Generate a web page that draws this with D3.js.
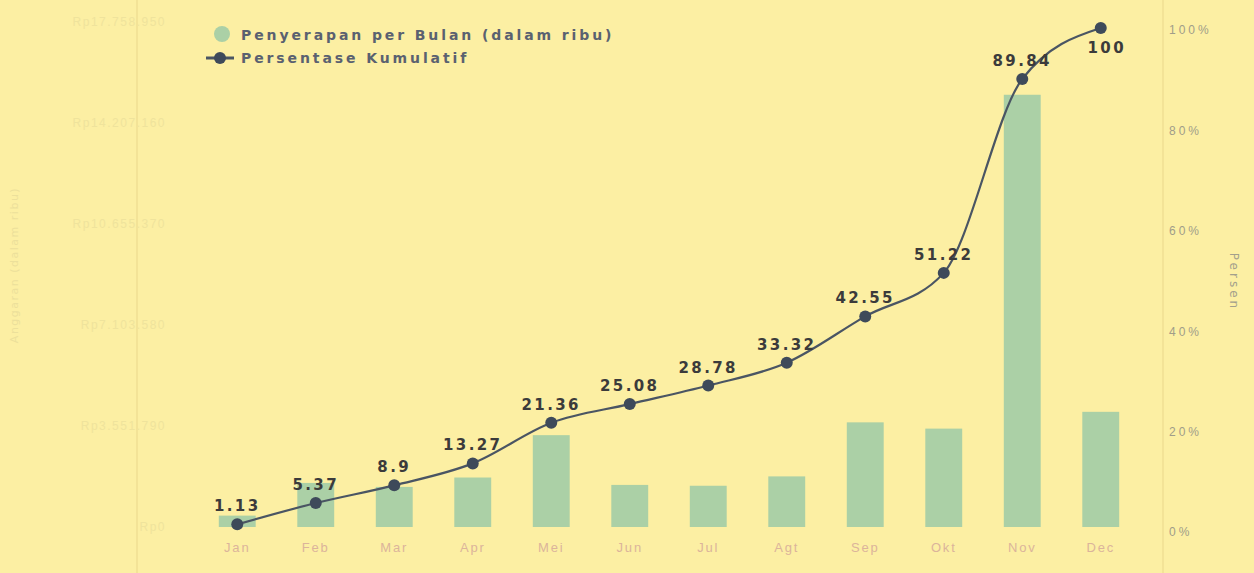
<!DOCTYPE html>
<html><head><meta charset="utf-8">
<script src="https://cdn.jsdelivr.net/npm/d3@7"></script>
<style>
html,body{margin:0;padding:0;background:#fcefa3;}
svg{display:block;font-family:"DejaVu Sans",sans-serif;}
</style></head>
<body>
<svg id="chart" width="1254" height="573"></svg>
<script>
const months = ["Jan","Feb","Mar","Apr","Mei","Jun","Jul","Agt","Sep","Okt","Nov","Dec"];
const monthly = [400000,1550000,1410000,1740000,3230000,1480000,1450000,1780000,3680000,3460000,15200000,4050000];
const cumulativePct = [1.13,5.37,8.9,13.27,21.36,25.08,28.78,33.32,42.55,51.22,89.84,100];
const leftTicks = [0,3551790,7103580,10655370,14207160,17758950];
const leftTickLabels = ["Rp0","Rp3.551.790","Rp7.103.580","Rp10.655.370","Rp14.207.160","Rp17.758.950"];
const rightTicks = [0,20,40,60,80,100];
const legendLabels = ["Penyerapan per Bulan (dalam ribu)","Persentase Kumulatif"];

const svg = d3.select("#chart");
const W = 1254, H = 573;
svg.append("rect").attr("width",W).attr("height",H).attr("fill","#fcefa3");

const x = d3.scaleBand().domain(months).range([198,1140]).paddingInner(0.53).paddingOuter(0.265);
const yL = d3.scaleLinear().domain([0,17758950]).range([527,22]);
const yR = d3.scaleLinear().domain([0,100]).range([530,28]);

// faint vertical lines
[137,1163].forEach(v=>svg.append("line").attr("x1",v).attr("x2",v).attr("y1",0).attr("y2",H)
  .attr("stroke","#f3e397").attr("stroke-width",2));

// left axis
const gL = svg.append("g").attr("transform","translate(170,0)")
  .call(d3.axisLeft(yL).tickValues(leftTicks).tickFormat((d,i)=>leftTickLabels[i]).tickSize(0).tickPadding(4));
gL.select(".domain").remove();
gL.selectAll("text").attr("fill","#efe39c").attr("font-size",12).attr("letter-spacing","1.5px");

svg.append("text").attr("transform","translate(18,265) rotate(-90)").attr("text-anchor","middle")
  .attr("fill","#ece09b").attr("font-size",11).attr("letter-spacing","1.5px").text("Anggaran (dalam ribu)");

// right axis
const gR = svg.append("g").attr("transform","translate(1167,2)")
  .call(d3.axisRight(yR).tickValues(rightTicks).tickFormat(d=>d+"%").tickSize(0).tickPadding(2));
gR.select(".domain").remove();
gR.selectAll("text").attr("fill","#a09d89").attr("font-size",12).attr("letter-spacing","3px");

svg.append("text").attr("transform","translate(1230,282) rotate(90)").attr("text-anchor","middle")
  .attr("fill","#a3a08c").attr("font-size",12).attr("letter-spacing","3px").text("Persen");

// x axis
const gX = svg.append("g").attr("transform","translate(0,535)")
  .call(d3.axisBottom(x).tickSize(0).tickPadding(8));
gX.select(".domain").remove();
gX.selectAll("text").attr("fill","#dbb49b").attr("font-size",13).attr("letter-spacing","1.8px");

// bars
svg.append("g").selectAll("rect").data(monthly).join("rect")
  .attr("x",(d,i)=>x(months[i])).attr("width",x.bandwidth())
  .attr("y",d=>yL(d)).attr("height",d=>yL(0)-yL(d))
  .attr("fill","#abd0a6");

// line
const cx = m => x(m)+x.bandwidth()/2;
const line = d3.line().x((d,i)=>cx(months[i])).y(d=>yR(d)).curve(d3.curveMonotoneX);
svg.append("path").datum(cumulativePct).attr("d",line).attr("fill","none")
  .attr("stroke","#4a5563").attr("stroke-width",2.2);
svg.append("g").selectAll("circle").data(cumulativePct).join("circle")
  .attr("cx",(d,i)=>cx(months[i])).attr("cy",d=>yR(d)).attr("r",6).attr("fill","#3e4a5a");

// point labels
svg.append("g").selectAll("text").data(cumulativePct).join("text")
  .attr("x",(d,i)=>cx(months[i]) + (i===11?6:0)).attr("y",(d,i)=>yR(d) + (i===11?25:-13))
  .attr("text-anchor","middle").attr("font-size",15).attr("font-weight","bold")
  .attr("letter-spacing","2.4px").attr("fill","#3b3b3b").text(d=>d);

// legend
const lg = svg.append("g");
lg.append("circle").attr("cx",222).attr("cy",34).attr("r",8).attr("fill","#abd0a6");
lg.append("line").attr("x1",206).attr("x2",234).attr("y1",58).attr("y2",58).attr("stroke","#4a5563").attr("stroke-width",3);
lg.append("circle").attr("cx",220).attr("cy",58).attr("r",6).attr("fill","#3e4a5a");
lg.selectAll("text").data(legendLabels).join("text")
  .attr("x",241).attr("y",(d,i)=>40+i*23).attr("font-size",14).attr("font-weight","bold")
  .attr("letter-spacing","2.9px").attr("fill","#5a6170").text(d=>d);
</script>
</body></html>
